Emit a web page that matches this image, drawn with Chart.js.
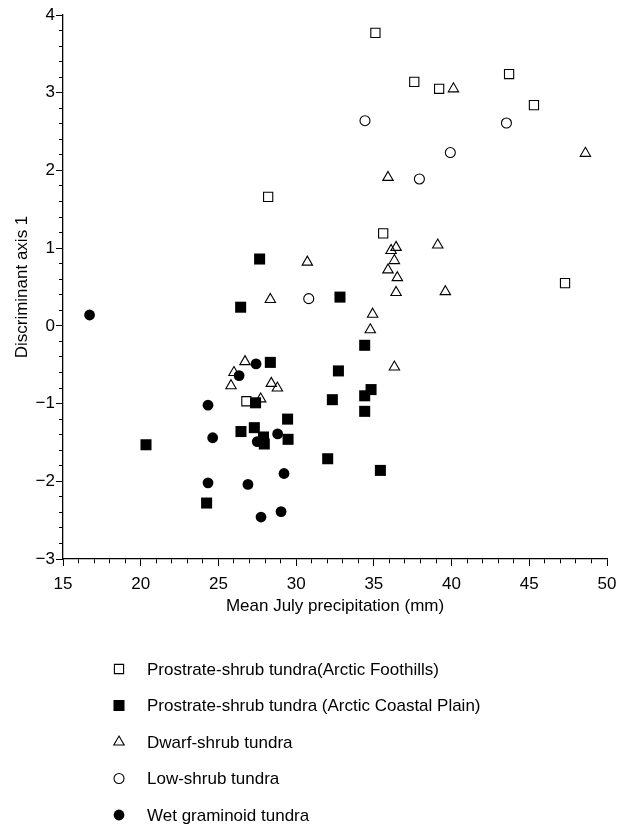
<!DOCTYPE html>
<html>
<head>
<meta charset="utf-8">
<script src="https://cdn.jsdelivr.net/npm/chart.js@4/dist/chart.umd.min.js"></script>
<style>
  body { margin: 0; background: #fff; }
</style>
</head>
<body>
<canvas id="myChart" width="627" height="825"></canvas>
<script>
// series labels (legend order)
const seriesLabels = [
  'Prostrate-shrub tundra(Arctic Foothills)',
  'Prostrate-shrub tundra (Arctic Coastal Plain)',
  'Dwarf-shrub tundra',
  'Low-shrub tundra',
  'Wet graminoid tundra'
];

// x = mean July precipitation (mm), y = discriminant axis 1
const foothillsX = [28.2, 35.1, 37.6, 39.2, 43.7, 45.3, 35.6, 47.3, 26.8];
const foothillsY = [1.66, 3.77, 3.14, 3.05, 3.24, 2.84, 1.19, 0.55, -0.97];

const coastalX = [27.65, 26.43, 32.82, 34.41, 32.72, 34.82, 34.41, 32.33, 34.41, 32.03, 35.42,
                  28.34, 27.39, 29.45, 26.45, 27.31, 27.9, 27.95, 29.48, 20.34, 24.24];
const coastalY = [0.86, 0.24, 0.37, -0.25, -0.58, -0.82, -0.90, -0.95, -1.10, -1.71, -1.86,
                  -0.47, -0.99, -1.20, -1.36, -1.31, -1.43, -1.52, -1.46, -1.53, -2.28];

const dwarfX = [30.72, 28.34, 40.12, 48.61, 35.91, 36.43, 36.11, 39.11, 36.32, 35.91, 36.51,
                36.43, 39.6, 34.92, 34.77, 36.32, 26.71, 26.0, 25.81, 28.4, 28.79, 27.72];
const dwarfY = [0.82, 0.34, 3.05, 2.22, 1.91, 1.01, 0.97, 1.04, 0.84, 0.72, 0.62,
                0.43, 0.44, 0.15, -0.05, -0.53, -0.46, -0.60, -0.77, -0.74, -0.80, -0.94];

const lowX = [30.81, 34.43, 43.53, 39.92, 37.93];
const lowY = [0.35, 2.64, 2.61, 2.23, 1.89];

const wetX = [16.71, 27.42, 26.33, 24.33, 27.5, 28.81, 24.63, 29.22, 24.33, 26.9, 29.03, 27.74];
const wetY = [0.14, -0.49, -0.64, -1.02, -1.49, -1.39, -1.44, -1.90, -2.02, -2.04, -2.39, -2.46];

const xTicks = [15, 20, 25, 30, 35, 40, 45, 50];
const yTicks = [-3, -2, -1, 0, 1, 2, 3, 4];

const FONT = '"Liberation Sans", Arial, Helvetica, sans-serif';

function pts(xs, ys) {
  return xs.map((x, i) => ({ x: x, y: ys[i] }));
}

const data = {
  datasets: [
    { label: seriesLabels[0], data: pts(foothillsX, foothillsY), pointStyle: 'rect', pointRadius: 6.5,
      backgroundColor: 'rgba(255,255,255,0)', borderColor: '#000', borderWidth: 1.1 },
    { label: seriesLabels[1], data: pts(coastalX, coastalY), pointStyle: 'rect', pointRadius: 7.8,
      backgroundColor: '#000', borderColor: '#000', borderWidth: 0 },
    { label: seriesLabels[2], data: pts(dwarfX, dwarfY), pointStyle: 'triangle', pointRadius: 6,
      backgroundColor: 'rgba(255,255,255,0)', borderColor: '#000', borderWidth: 1.1 },
    { label: seriesLabels[3], data: pts(lowX, lowY), pointStyle: 'circle', pointRadius: 5,
      backgroundColor: 'rgba(255,255,255,0)', borderColor: '#000', borderWidth: 1.1 },
    { label: seriesLabels[4], data: pts(wetX, wetY), pointStyle: 'circle', pointRadius: 5.4,
      backgroundColor: '#000', borderColor: '#000', borderWidth: 0 }
  ]
};
data.datasets.forEach(d => { d.pointHoverRadius = d.pointRadius; d.showLine = false; });

function isMajor(v, list) {
  return list.some(t => Math.abs(t - v) < 1e-6);
}

// legend drawn below the axes, one entry per line
const stackedLegend = {
  id: 'stackedLegend',
  afterDraw(chart) {
    const ctx = chart.ctx;
    ctx.save();
    ctx.font = '17px ' + FONT;
    ctx.textBaseline = 'middle';
    ctx.textAlign = 'left';
    chart.data.datasets.forEach((ds, i) => {
      const y = 669 + i * 36.5;
      ctx.fillStyle = ds.backgroundColor;
      ctx.strokeStyle = ds.borderColor;
      ctx.lineWidth = ds.borderWidth;
      Chart.helpers.drawPoint(ctx, {
        pointStyle: ds.pointStyle,
        radius: ds.pointRadius,
        rotation: 0,
        borderWidth: ds.borderWidth
      }, 119, y);
      ctx.fillStyle = '#000';
      ctx.fillText(ds.label, 147, y + 1);
    });
    ctx.restore();
  }
};

const config = {
  type: 'scatter',
  data: data,
  plugins: [stackedLegend],
  options: {
    responsive: false,
    animation: false,
    devicePixelRatio: 1,
    layout: { padding: { left: 0, top: 15, right: 20, bottom: 208 } },
    plugins: {
      legend: { display: false },
      tooltip: { enabled: false }
    },
    scales: {
      x: {
        type: 'linear',
        min: 15,
        max: 50,
        afterFit: s => { s.height = 58; },
        border: { display: true, color: '#000', width: 1.3 },
        grid: {
          drawOnChartArea: false,
          color: '#000',
          tickColor: '#000',
          tickWidth: 1,
          tickLength: 7,
          tickBorderDash: ctx => (ctx.tick && !isMajor(ctx.tick.value, xTicks)) ? [4, 20] : []
        },
        ticks: {
          stepSize: 1,
          autoSkip: false,
          maxRotation: 0,
          padding: 8,
          color: '#000',
          font: { family: FONT, size: 17 },
          callback: v => isMajor(v, xTicks) ? String(Math.round(v)) : ''
        },
        title: {
          display: true,
          text: 'Mean July precipitation (mm)',
          color: '#000',
          font: { family: FONT, size: 17 },
          padding: { top: 0, bottom: 0 }
        }
      },
      y: {
        type: 'linear',
        min: -3,
        max: 4,
        afterFit: s => { s.width = 63; },
        border: { display: true, color: '#000', width: 1.3 },
        grid: {
          drawOnChartArea: false,
          color: '#000',
          tickColor: '#000',
          tickWidth: 1,
          tickLength: 7,
          tickBorderDash: ctx => (ctx.tick && !isMajor(ctx.tick.value, yTicks)) ? [0, 3, 4, 20] : []
        },
        ticks: {
          stepSize: 0.2,
          autoSkip: false,
          padding: 1,
          color: '#000',
          font: { family: FONT, size: 17 },
          callback: v => {
            if (!isMajor(v, yTicks)) return '';
            const n = Math.round(v);
            return n < 0 ? '\u2212' + Math.abs(n) : String(n);
          }
        },
        title: {
          display: true,
          text: 'Discriminant axis 1',
          color: '#000',
          font: { family: FONT, size: 17 },
          padding: { top: 12, bottom: 0 }
        }
      }
    }
  }
};

const myChart = new Chart(document.getElementById('myChart'), config);
</script>
</body>
</html>
